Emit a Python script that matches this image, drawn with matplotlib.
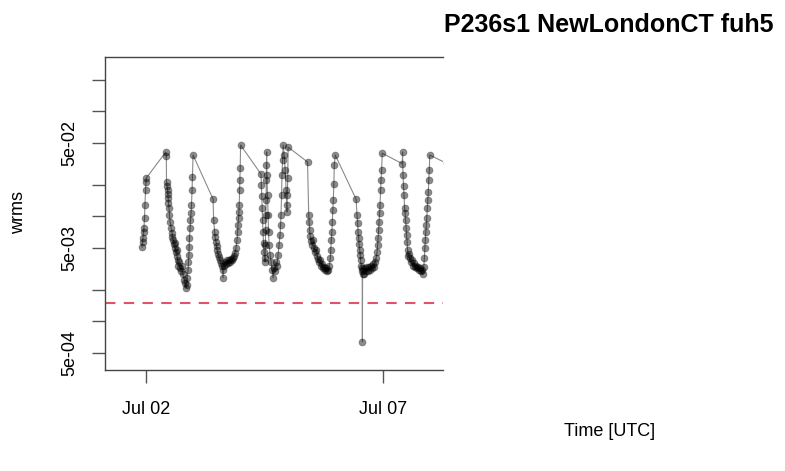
import numpy as np
import pandas as pd
import matplotlib
matplotlib.use("Agg")
import matplotlib.pyplot as plt
from matplotlib.ticker import NullLocator

plt.rcParams['font.family'] = ['Liberation Sans', 'DejaVu Sans']

# hours since 2021-07-01 00:00 UTC, wrms values
h1 = [22.1, 22.4, 22.6, 22.9, 23.1, 23.4, 23.6, 23.9, 24.1, 24.3]
w1 = [0.0051, 0.0057, 0.0062, 0.0071, 0.0078, 0.0097, 0.0128, 0.0178, 0.0213, 0.0232]

h2 = [34.1, 34.4, 34.5, 34.8, 35.0, 35.2, 35.35, 35.5, 35.8, 36.0, 36.3, 36.8, 37.3, 37.5, 37.8,
      38.3, 38.6, 38.8, 39.3, 39.6, 39.8, 40.1, 40.3, 40.8, 41.3, 41.8, 42.3, 42.8, 43.3, 43.9,
      44.4, 44.6, 44.9, 45.4, 45.6, 45.8, 45.95, 46.1, 46.4, 46.6, 46.9, 47.1, 47.4, 47.6, 47.9]
w2 = [0.041, 0.038, 0.0213, 0.0195, 0.0178, 0.0163, 0.0149, 0.0134, 0.0120, 0.0103, 0.0089, 0.0078,
      0.0070, 0.0064, 0.0060, 0.0055, 0.0056, 0.0050, 0.0046, 0.0048, 0.0042, 0.0038, 0.0034, 0.0037,
      0.0032, 0.0030, 0.0034, 0.0028, 0.0025, 0.0023, 0.0021, 0.0022, 0.0026, 0.0031, 0.0037, 0.0043,
      0.0051, 0.0062, 0.0078, 0.0092, 0.0108, 0.0128, 0.0178, 0.0237, 0.0384]

h3 = [58.0, 58.3, 58.8, 59.0, 59.5, 59.8, 60.0, 60.5, 61.0, 61.5, 62.0, 62.5, 62.8, 63.0, 63.6,
      64.1, 64.6, 65.1, 65.6, 66.1, 66.6, 67.1, 67.6, 68.1, 68.6, 69.1, 69.6,
      70.1, 70.4, 70.6, 70.9, 71.05, 71.2, 71.4, 71.55, 71.7, 71.9]
w3 = [0.0146, 0.0092, 0.0071, 0.0064, 0.0057, 0.0052, 0.0048, 0.0044, 0.0041, 0.0038, 0.0036, 0.0034,
      0.0031, 0.0026, 0.0034, 0.0037, 0.0035, 0.0038, 0.0036, 0.0038, 0.0037, 0.0039, 0.0038, 0.0040,
      0.0042, 0.0045, 0.0050,
      0.0060, 0.0071, 0.0083, 0.0097, 0.0110, 0.0128, 0.0178, 0.0222, 0.0287, 0.0478]

h4 = [82.2, 82.4, 82.6, 82.8, 83.0, 83.2, 83.5, 83.7, 84.0, 84.3, 84.45, 84.55, 84.65, 84.75, 84.85,
      84.95, 85.05, 85.2, 85.5, 85.8, 86.0, 86.3, 86.8, 87.3, 87.8, 88.3, 88.8, 89.3, 89.8, 90.3,
      90.8, 91.3, 91.8, 92.1, 92.3, 92.6, 92.8, 93.1, 93.4, 93.9, 94.4, 94.9, 95.1, 95.3, 95.5,
      95.7, 95.9]
w4 = [0.0253, 0.0199, 0.0156, 0.0120, 0.0092, 0.0071, 0.0056, 0.0046, 0.0040, 0.0037, 0.0053, 0.0074,
      0.0103, 0.0143, 0.0222, 0.0308, 0.0410, 0.0248, 0.0160, 0.0103, 0.0071, 0.0053, 0.0043, 0.0037,
      0.0031, 0.0026, 0.0032, 0.0030, 0.0037, 0.0034, 0.0043, 0.0053, 0.0066, 0.0083, 0.0103, 0.0160,
      0.0248, 0.0344, 0.0478, 0.0384, 0.0276, 0.0178, 0.0128, 0.0110, 0.0160, 0.0232, 0.0457]

h5 = [105.7, 106.3, 106.5, 106.8, 107.0, 107.5, 108.1, 108.6, 109.1, 109.6, 110.1, 110.6, 111.1,
      111.6, 112.1, 112.6, 113.1, 113.6, 114.1, 114.7, 115.2, 115.7, 116.2, 116.7, 117.2, 117.4,
      117.7, 118.0, 118.2, 118.5, 118.7, 119.0, 119.2, 119.7]
w5 = [0.0330, 0.0103, 0.0089, 0.0074, 0.0065, 0.0058, 0.0053, 0.0060, 0.0050, 0.0046, 0.0048, 0.0042,
      0.0039, 0.0037, 0.0038, 0.0034, 0.0035, 0.0032, 0.0033, 0.0031, 0.0032, 0.0030, 0.0031, 0.0034,
      0.0040, 0.0048, 0.0060, 0.0071, 0.0089, 0.0115, 0.0143, 0.0204, 0.0308, 0.0384]

h6 = [130.2, 130.7, 131.0, 131.2, 131.5, 131.7, 132.0, 132.3, 132.5, 132.8, 133.0, 133.3, 133.4,
      133.5, 133.8, 134.3, 134.8, 135.3, 135.8, 136.3, 136.8, 137.3, 137.8, 138.3, 138.8, 139.3,
      139.8, 140.3, 140.8, 141.1, 141.3, 141.6, 141.8, 142.1, 142.3, 142.6, 142.8, 143.1, 143.4]
w6 = [0.0146, 0.0103, 0.0087, 0.0071, 0.0062, 0.0055, 0.0048, 0.0043, 0.0038, 0.0034, 0.0032, 0.0030,
      0.00064, 0.0028, 0.0031, 0.0028, 0.0032, 0.0030, 0.0033, 0.0030, 0.0033, 0.0031, 0.0034, 0.0032,
      0.0035, 0.0033, 0.0037, 0.0040, 0.0046, 0.0053, 0.0062, 0.0074, 0.0089, 0.0108, 0.0128, 0.0178,
      0.0222, 0.0276, 0.0400]

h7 = [153.5, 153.7, 153.9, 154.2, 154.4, 154.7, 155.0, 155.2, 155.5, 155.7, 156.0, 156.2, 156.5,
      156.8, 157.3, 157.8, 158.3, 158.8, 159.3, 159.8, 160.3, 160.8, 161.4, 161.9, 162.4, 162.9,
      163.4, 163.9, 164.4, 164.7, 164.9, 165.2, 165.4, 165.7, 165.9, 166.2, 166.4, 166.7, 166.9,
      167.2, 167.4, 176.0]
w7 = [0.0318, 0.0410, 0.0248, 0.0194, 0.0160, 0.0120, 0.0108, 0.0092, 0.0078, 0.0066, 0.0057, 0.0048,
      0.0042, 0.0044, 0.0040, 0.0037, 0.0038, 0.0034, 0.0036, 0.0033, 0.0034, 0.0032, 0.0033, 0.0031,
      0.0032, 0.0030, 0.0031, 0.0028, 0.0033, 0.0040, 0.0050, 0.0060, 0.0071, 0.0083, 0.0097, 0.0120,
      0.0143, 0.0171, 0.0222, 0.0276, 0.0384, 0.032]

threshold = 1.5e-3
yticks = [5e-4, 1e-3, 2e-3, 5e-3, 1e-2, 2e-2, 5e-2, 1e-1, 2e-1]
ylabels = ['5e-04', '', '', '5e-03', '', '', '5e-02', '', '']
xtick_days = ['2021-07-02', '2021-07-07']
xtick_labels = ['Jul 02', 'Jul 07']

start = pd.Timestamp('2021-07-01')
hours = np.concatenate([h1, h2, h3, h4, h5, h6, h7])
wrms = np.concatenate([w1, w2, w3, w4, w5, w6, w7])
t = start + pd.to_timedelta(hours, unit='h')

fig = plt.figure(figsize=(7.85, 4.71), dpi=100)
ax = fig.add_axes([105 / 785, 101 / 471, 338 / 785, 313 / 471])

ax.plot(t, wrms, '-', color='#8a8a8a', lw=0.8, zorder=2)
ax.plot(t, wrms, 'o', ms=5.0, mfc=(0, 0, 0, 0.45), mec=(0, 0, 0, 0.3), mew=0.6, zorder=3)
ax.axhline(threshold, color='#DF536B', lw=1.5, dashes=(5, 4), zorder=1)

ax.set_yscale('log')
ax.set_ylim(3.44e-4, 0.33)
ax.set_xlim(start + pd.Timedelta(hours=3.44), start + pd.Timedelta(hours=174.1))

ax.yaxis.set_minor_locator(NullLocator())
ax.set_yticks(yticks)
ax.set_yticklabels(ylabels, rotation=90, va='center')
ax.set_xticks([pd.Timestamp(d) for d in xtick_days])
ax.set_xticklabels(xtick_labels)

ax.spines['right'].set_visible(False)
for s in ['left', 'top', 'bottom']:
    ax.spines[s].set_color('#444444')
    ax.spines[s].set_linewidth(1.0)
ax.tick_params(axis='both', length=9.4, width=1.0, color='#555555', labelsize=13)
ax.tick_params(axis='y', pad=10)
ax.tick_params(axis='x', pad=13)

fig.text(609 / 785, 1 - 25 / 471, 'P236s1 NewLondonCT fuh5', ha='center', va='center',
         fontsize=18, fontweight='bold')
fig.text(19 / 785, 1 - 212 / 471, 'wrms', rotation=90, ha='center', va='center', fontsize=13)
fig.text(610 / 785, 1 - 432 / 471, 'Time [UTC]', ha='center', va='center', fontsize=13)

fig.savefig('out.png', dpi=100)
